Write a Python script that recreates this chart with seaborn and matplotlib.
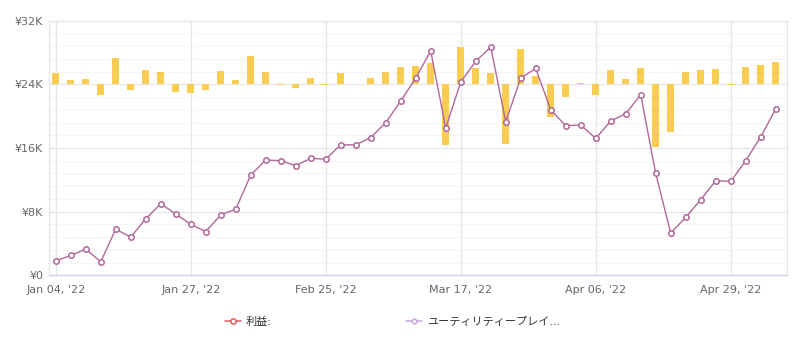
import numpy as np
import pandas as pd
import seaborn as sns
import matplotlib
matplotlib.use("Agg")
import matplotlib.pyplot as plt
from matplotlib.lines import Line2D
from matplotlib.ticker import MultipleLocator, FuncFormatter

# Cumulative profit per trading day (yen)
cumulative_profit = [
    1800, 2500, 3300, 1700, 5800, 4800, 7100, 9000, 7700, 6400,
    5500, 7600, 8300, 12600, 14500, 14400, 13800, 14700, 14600, 16400,
    16400, 17300, 19200, 21900, 24800, 28200, 18500, 24300, 26900, 28700,
    19300, 24800, 26000, 20800, 18800, 18900, 17200, 19400, 20300, 22700,
    12800, 5300, 7300, 9500, 11900, 11800, 14400, 17400, 20900,
]

# Daily profit per trading day (yen)
daily_profit = [
    1800, 650, 850, -1600, 4150, -950, 2300, 1900, -1200, -1350,
    -850, 2100, 750, 4400, 1900, -100, -600, 1000, -100, 1850,
    0, 1000, 1900, 2750, 2950, 3350, -9500, 5900, 2550, 1850,
    -9300, 5500, 1350, -5200, -1950, 150, -1600, 2300, 900, 2500,
    -9800, -7450, 1950, 2300, 2450, -100, 2700, 3100, 3550,
]

tick_labels = ["Jan 04, '22", "Jan 27, '22", "Feb 25, '22",
               "Mar 17, '22", "Apr 06, '22", "Apr 29, '22"]

legend_names = ["利益:", "ユーティリティープレイ..."]

line_color = "#b0689a"
bar_color = "#f9cc52"
grid_major = "#e6e6e6"
grid_minor = "#f4f4f4"

sns.set_theme(style="white")
plt.rcParams["font.family"] = ["DejaVu Sans", "Noto Sans CJK JP"]

df = pd.DataFrame({
    "day": np.arange(len(cumulative_profit)),
    "cumulative": cumulative_profit,
    "daily": daily_profit,
})

fig = plt.figure(figsize=(7.93, 3.47), dpi=100)
fig.patch.set_facecolor("white")
ax = fig.add_axes([0.0614, 0.2066, 0.9310, 0.7337])
ax2 = ax.twinx()

# daily bars on the secondary (hidden) scale, drawn underneath
sns.barplot(data=df, x="day", y="daily", ax=ax2, native_scale=True,
            width=0.47, color=bar_color, saturation=1, linewidth=0,
            errorbar=None)

# cumulative line on the primary scale
sns.lineplot(data=df, x="day", y="cumulative", ax=ax, color=line_color,
             lw=1.0, marker="o", markersize=3.9, markerfacecolor="white",
             markeredgecolor=line_color, markeredgewidth=1.1)

ax.set_zorder(ax2.get_zorder() + 1)
ax.patch.set_visible(False)

ax.set_ylim(0, 32000)
ax2.set_ylim(-30000, 10000)
ax.set_xlim(-0.47, 48.75)

tick_pos = np.arange(0, len(cumulative_profit), 9)[:len(tick_labels)]
ax.set_xticks(tick_pos)
ax.set_xticklabels(tick_labels)

ax.yaxis.set_major_locator(MultipleLocator(8000))
ax.yaxis.set_major_formatter(
    FuncFormatter(lambda v, _: "¥0" if v == 0 else f"¥{int(v / 1000)}K"))
ax.tick_params(axis="y", length=0, pad=4, labelsize=8, labelcolor="#666666")
ax.tick_params(axis="x", length=0, pad=7, labelsize=8, labelcolor="#666666")
ax.grid(False)
ax.set_xlabel("")
ax.set_ylabel("")

# grid lives on the lower axes so the bars sit above it
ax2.xaxis.set_visible(True)
ax2.yaxis.set_major_locator(MultipleLocator(10000))
ax2.yaxis.set_minor_locator(MultipleLocator(2000))
ax2.grid(which="minor", axis="y", color=grid_minor, lw=0.8)
ax2.grid(which="major", axis="y", color=grid_major, lw=0.9)
ax2.grid(which="major", axis="x", color=grid_major, lw=0.9)
ax2.tick_params(axis="both", which="both", length=0,
                labelbottom=False, labelright=False, right=False, bottom=False)
ax2.set_ylabel("")
ax2.set_xlabel("")
for s in ax2.spines.values():
    s.set_visible(False)

for name in ("left", "right", "top"):
    ax.spines[name].set_color(grid_major)
    ax.spines[name].set_linewidth(0.9)
ax.spines["bottom"].set_color("#ccd6eb")
ax.spines["bottom"].set_linewidth(1.0)

# legend entries
handles = [
    Line2D([], [], color="#e8595a", lw=1.1, marker="o", markersize=3.8,
           markerfacecolor="white", markeredgecolor="#e8595a", markeredgewidth=1.1),
    Line2D([], [], color="#c9a6d8", lw=1.1, marker="o", markersize=3.3,
           markerfacecolor="white", markeredgecolor="#c9a6d8", markeredgewidth=1.1),
]
legend_x = [225 / 793, 406 / 793]
for h, name, lx in zip(handles, legend_names, legend_x):
    leg = fig.legend([h], [name], loc="center left",
                     bbox_to_anchor=(lx, 1 - 321.7 / 347), frameon=False,
                     fontsize=8, handlelength=1.4, handletextpad=0.5,
                     borderpad=0, borderaxespad=0)
    for t in leg.get_texts():
        t.set_color("#333333")

fig.savefig("out.png", dpi=100, facecolor="white")
